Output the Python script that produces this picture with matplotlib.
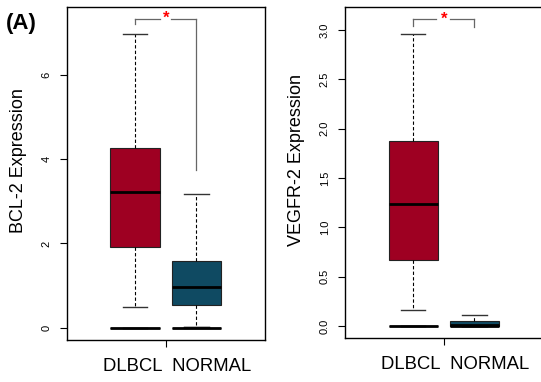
import matplotlib
matplotlib.use("Agg")
import matplotlib.pyplot as plt

plt.rcParams['font.family'] = ['Liberation Sans', 'DejaVu Sans']

groups = ["DLBCL", "NORMAL"]
# panel A: BCL-2 (q1, median, q3, whisker low, whisker high)
bcl2_stats = {"DLBCL": [1.91, 3.23, 4.26, 0.505, 6.96],
              "NORMAL": [0.545, 0.965, 1.58, 0.02, 3.17]}
bcl2_zero = {"DLBCL": [0.0, 0.0, 0.0, 0.0, 0.0],
             "NORMAL": [0.0, 0.0, 0.0, 0.0, 0.02]}
vegfr_stats = {"DLBCL": [0.675, 1.235, 1.88, 0.162, 2.955],
               "NORMAL": [0.0, 0.012, 0.05, 0.0, 0.108]}
vegfr_zero = {"DLBCL": [0.0, 0.0, 0.0, 0.0, 0.0],
              "NORMAL": [0.0, 0.0, 0.0, 0.0, 0.0]}
bcl2_yticks = [0, 2, 4, 6]
vegfr_yticks = [0.0, 0.5, 1.0, 1.5, 2.0, 2.5, 3.0]
bcl2_bracket = [7.33, 7.2, 3.75]
vegfr_bracket = [3.11, 3.04, 3.03]

colors = ["#9E0022", "#0F4A62"]

W, H = 541, 382
fig = plt.figure(figsize=(W / 100, H / 100), dpi=100)

def make_stats(d):
    out = []
    for g in groups:
        q1, med, q3, lo, hi = d[g]
        out.append(dict(q1=q1, med=med, q3=q3, whislo=lo, whishi=hi, fliers=[], label=g))
    return out

def panel(rect, stats, zero, ylim, yticks, fmt, ylabel, bracket, gap, label_y):
    ax = fig.add_axes(rect)
    for st, filled in ((stats, True), (zero, False)):
        b = ax.bxp(make_stats(st), positions=[1, 2], widths=0.8, patch_artist=True,
                   showfliers=False, capwidths=0.4, manage_ticks=False,
                   boxprops=dict(edgecolor="#222222", linewidth=0.8),
                   whiskerprops=dict(color="black", linestyle=(0, (3, 2)), linewidth=0.8),
                   capprops=dict(color="#333333", linewidth=1.0),
                   medianprops=dict(color="black", linewidth=2.0, solid_capstyle="butt"))
        for i, p in enumerate(b["boxes"]):
            p.set_facecolor(colors[i] if filled else "none")
        if not filled:
            for m in b["medians"]:
                m.set_linewidth(2.0)
    ax.set_xlim(1.5 - 1.612, 1.5 + 1.612)
    ax.set_ylim(*ylim)
    ax.set_yticks(yticks)
    ax.set_yticklabels([fmt.format(v) for v in yticks], rotation=90, va="center", fontsize=8)
    ax.set_xticks([1.5])
    ax.set_xticklabels([""])
    ax.tick_params(length=5, width=0.8, pad=6)
    for s in ax.spines.values():
        s.set_linewidth(1.0)
    ax.set_ylabel(ylabel, fontsize=13)
    ax.yaxis.set_label_coords(-0.20, label_y)
    ax.text(1.68, -0.08, "DLBCL  NORMAL", transform=ax.get_xaxis_transform(),
            ha="center", va="center", fontsize=13.3)
    top, lft, rgt = bracket
    c = "#666666"
    ax.plot([1, 1], [top, lft], color=c, lw=0.9)
    ax.plot([2, 2], [top, rgt], color=c, lw=0.9)
    ax.plot([1, 1.5 - gap[0]], [top, top], color=c, lw=0.9)
    ax.plot([1.5 + gap[1], 2], [top, top], color=c, lw=0.9)
    ax.text(1.5, top, "*", color="red", ha="center", va="center", fontsize=12,
            fontweight="bold")
    return ax

panel([66.7 / W, (H - 339.5) / H, 198 / W, 332.2 / H], bcl2_stats, bcl2_zero,
      (-0.277, 7.6), bcl2_yticks, "{:d}", "BCL-2 Expression", bcl2_bracket, (0.1, 0.09), 0.54)
panel([345 / W, (H - 338) / H, 197.6 / W, 330.7 / H], vegfr_stats, vegfr_zero,
      (-0.12, 3.23), vegfr_yticks, "{:.1f}", "VEGFR-2 Expression", vegfr_bracket, (0.12, 0.1), 0.538)

fig.text(6 / W, 1 - 23 / H, "(A)", fontsize=16, fontweight="bold", va="center", ha="left")

fig.savefig("out.png", dpi=100)
